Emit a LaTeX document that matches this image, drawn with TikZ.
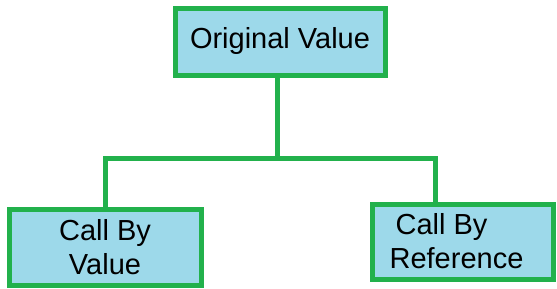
\documentclass[tikz,border=0pt]{standalone}
\usepackage{fontspec}
\setmainfont{Liberation Sans}
\definecolor{boxfill}{HTML}{9DD9EA}
\definecolor{boxline}{HTML}{22B14C}
\tikzset{
  box/.style={draw=boxline, fill=boxfill, line width=5pt, inner sep=0pt,
    font=\fontsize{29}{34}\selectfont, text=black},
  conn/.style={draw=boxline, line width=5pt}
}
\begin{document}
\begin{tikzpicture}[x=1pt,y=-1pt]
\useasboundingbox (0,0) rectangle (557,289);
\node[box, minimum width=210pt, minimum height=67pt] (top) at (280,41.5) {\raisebox{3pt}{Original Value}};
\node[box, minimum width=192pt, minimum height=76pt, align=center] (left) at (105,247) {Call By\\Value};
\node[box, minimum width=181pt, minimum height=75pt, align=left] (right) at (462.5,241.5) {\hspace*{6pt}Call By\\Reference\hspace*{12pt}};
\coordinate (j0) at (277,158);
\coordinate (jl) at (105,158);
\coordinate (jr) at (435,158);
\draw[conn] (top.south -| j0) -- (j0);
\draw[conn] (left.north) -- (jl) -- (jr) -- (jr |- right.north);
\end{tikzpicture}
\end{document}
